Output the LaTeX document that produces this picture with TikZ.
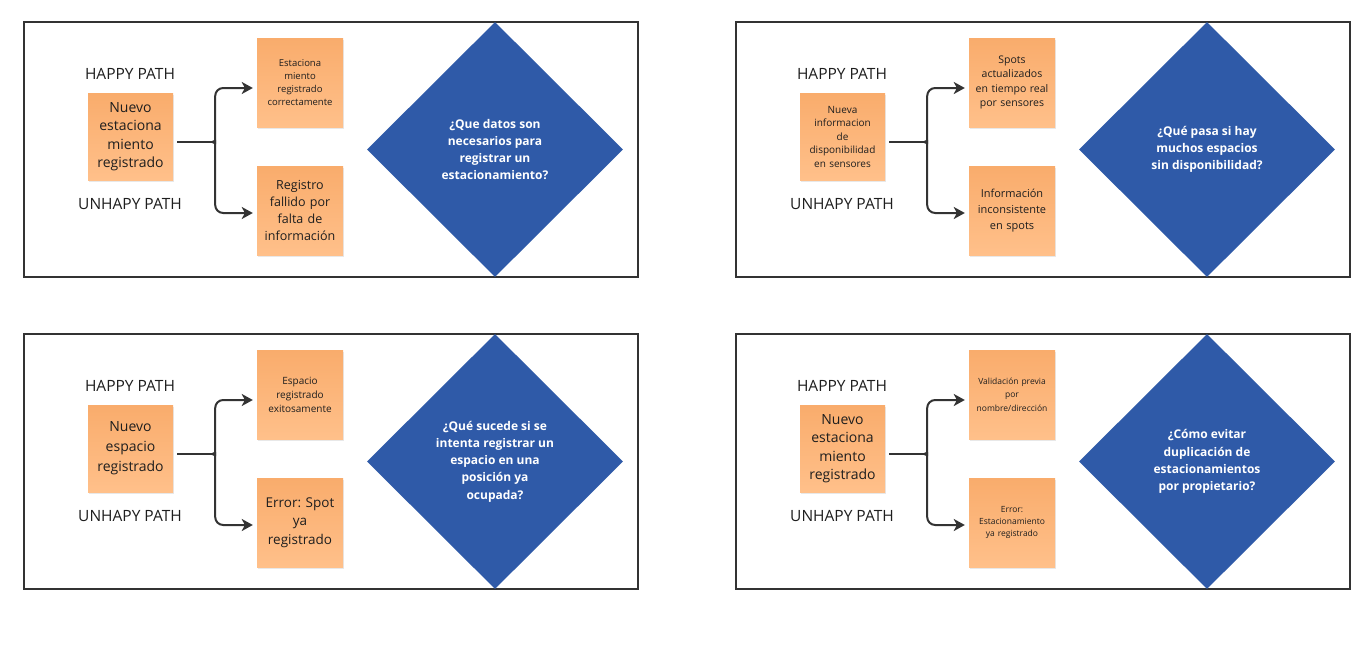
\documentclass[tikz,border=0pt]{standalone}
\usepackage{fontspec}
\setmainfont{Open Sans}
\frenchspacing
\usetikzlibrary{shapes.geometric,arrows.meta,calc,shadows}
\definecolor{frameC}{HTML}{333333}
\definecolor{lineC}{HTML}{333333}
\definecolor{stickTop}{HTML}{F9AC6C}
\definecolor{stickBot}{HTML}{FFC08A}
\definecolor{qBlue}{HTML}{2F5AA8}
\definecolor{txtC}{HTML}{1E1E1E}
\tikzset{
  frame/.style={draw=frameC,line width=1.5pt,minimum width=614pt,minimum height=255pt,inner sep=0pt},
  lbl/.style={font=\fontsize{15.5}{18}\selectfont,text=txtC,inner sep=0pt},
  sticky/.style={top color=stickTop,bottom color=stickBot,draw=none,
    drop shadow={shadow xshift=0.8pt,shadow yshift=-2pt,opacity=0.18},
    minimum width=86pt,minimum height=89pt,text width=82pt,align=center,inner sep=0pt,text=txtC},
  question/.style={diamond,fill=qBlue,text=white,minimum width=256pt,
    minimum height=255pt,inner sep=0pt,align=center},
  conn/.style={draw=lineC,line width=2pt,rounded corners=8pt},
  tip/.style={-{Stealth[length=11pt,width=12pt,inset=3pt]}}
}
\newcommand\drawpanel[7]{%
\begin{scope}[shift={(#2,#3)}]
\node[frame] (#1box) at (331,149.5) {};
\node[lbl] (#1hp) at (130,74) {HAPPY PATH};
\node[lbl] (#1up) at (130,204) {UNHAPY PATH};
\node[sticky,minimum width=85pt,minimum height=87pt,fs] (#1s) at (130.5,136.5) {#4};
\node[sticky,ft] (#1t) at (300,82.5) {#5};
\node[sticky,fb] (#1b) at (300,210.5) {#6};
\node[question,fq] (#1q) at (495,149.5) {#7};
\coordinate (#1j) at ($(#1s.east)+(39,5.5)$);
\coordinate (#1ta) at ($(#1t.west)+(-4,5.5)$);
\coordinate (#1ba) at ($(#1b.west)+(-4,2.5)$);
\draw[conn] ($(#1s.east)+(4,5.5)$) -- (#1j);
\draw[conn,tip] (#1j) to[out=0,in=-90] ($(#1j)+(3,-6)$) |- (#1ta);
\draw[conn,tip] (#1j) to[out=0,in=90] ($(#1j)+(3,6)$) |- (#1ba);
\end{scope}}
\begin{document}
\begin{tikzpicture}[x=1pt,y=-1pt]
\useasboundingbox[fill=white] (0,0) rectangle (1369,645);
\tikzset{fs/.style={font=\fontsize{14}{18.5}\selectfont},
  ft/.style={font=\fontsize{9.5}{13}\selectfont},
  fb/.style={font=\fontsize{12.5}{17}\selectfont},
  fq/.style={font=\fontsize{12}{17}\selectfont\bfseries}}
\drawpanel{a}{0}{0}
 {Nuevo\\estaciona\\miento\\registrado}
 {Estaciona\\miento\\registrado\\correctamente}
 {Registro\\fallido por\\falta de\\información}
 {¿Que datos son\\necesarios para\\registrar un\\estacionamiento?}
\tikzset{fs/.style={font=\fontsize{10}{13.5}\selectfont},
  ft/.style={font=\fontsize{10.5}{14.3}\selectfont},
  fb/.style={font=\fontsize{11}{16}\selectfont},
  fq/.style={font=\fontsize{12}{17}\selectfont\bfseries}}
\drawpanel{b}{712}{0}
 {Nueva\\informacion\\de\\disponibilidad\\en sensores}
 {Spots\\actualizados\\en tiempo real\\por sensores}
 {Información\\inconsistente\\en spots}
 {¿Qué pasa si hay\\muchos espacios\\sin disponibilidad?}
\tikzset{fs/.style={font=\fontsize{14}{20}\selectfont},
  ft/.style={font=\fontsize{10}{14}\selectfont},
  fb/.style={font=\fontsize{13.5}{18.5}\selectfont},
  fq/.style={font=\fontsize{12}{17.3}\selectfont\bfseries}}
\drawpanel{c}{0}{312}
 {Nuevo\\espacio\\registrado}
 {Espacio\\registrado\\exitosamente}
 {Error:\ Spot\\ya\\registrado}
 {¿Qué sucede si se\\intenta registrar un\\espacio en una\\posición ya\\ocupada?}
\tikzset{fs/.style={font=\fontsize{14}{18.5}\selectfont},
  ft/.style={font=\fontsize{8.5}{13.5}\selectfont},
  fb/.style={font=\fontsize{8.5}{12}\selectfont},
  fq/.style={font=\fontsize{12}{17.3}\selectfont\bfseries}}
\drawpanel{d}{712}{312}
 {Nuevo\\estaciona\\miento\\registrado}
 {Validación previa\\por\\nombre/dirección}
 {Error:\\Estacionamiento\\ya registrado}
 {¿Cómo evitar\\duplicación de\\estacionamientos\\por propietario?}
\end{tikzpicture}
\end{document}
